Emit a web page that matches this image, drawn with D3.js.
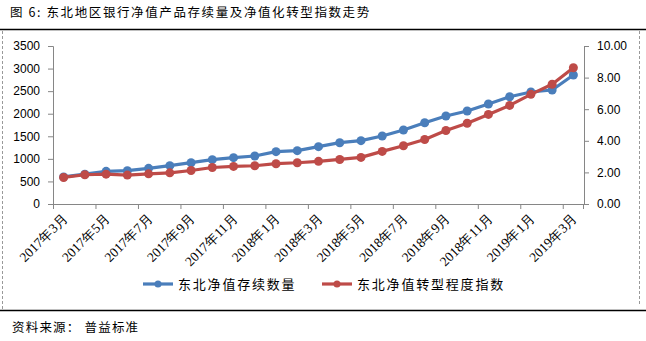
<!DOCTYPE html>
<html><head><meta charset="utf-8">
<script src="https://cdn.jsdelivr.net/npm/d3@7"></script>
<style>body{margin:0;background:#fff}svg{display:block}</style>
</head><body>
<script>
const months = ["2017年3月","2017年4月","2017年5月","2017年6月","2017年7月","2017年8月","2017年9月","2017年10月","2017年11月","2017年12月","2018年1月","2018年2月","2018年3月","2018年4月","2018年5月","2018年6月","2018年7月","2018年8月","2018年9月","2018年10月","2018年11月","2018年12月","2019年1月","2019年2月","2019年3月"];
const countValues = [600,660,724,738,790,849,915,982,1026,1063,1159,1181,1270,1358,1403,1506,1639,1801,1949,2060,2215,2377,2481,2525,2858];
const indexValues = [1.68,1.85,1.89,1.83,1.91,1.97,2.12,2.31,2.38,2.42,2.55,2.61,2.70,2.82,2.95,3.33,3.69,4.08,4.65,5.11,5.67,6.24,6.94,7.58,8.62];
const leftTicks = [0,500,1000,1500,2000,2500,3000,3500];
const rightTicks = [0,2,4,6,8,10];
const seriesNames = ["东北净值存续数量","东北净值转型程度指数"];
const title = "图 6:  东北地区银行净值产品存续量及净值化转型指数走势";
const source = "资料来源：  普益标准";

const W=646,H=341;
const svg=d3.select("body").append("svg").attr("width",W).attr("height",H);
const cjk="'Noto Sans CJK SC',sans-serif";
const blue="#4a7ebb", red="#be4b48";

// frame
svg.append("text").attr("x",10).attr("y",17).attr("font-family",cjk).attr("font-size",12.5).attr("letter-spacing",1.6).attr("fill","#000").text(title);
svg.append("line").attr("x1",0).attr("x2",646).attr("y1",29.5).attr("y2",29.5).attr("stroke","#000").attr("stroke-width",1.5);
svg.append("line").attr("x1",0).attr("x2",646).attr("y1",310.5).attr("y2",310.5).attr("stroke","#000").attr("stroke-width",1.5);
svg.append("line").attr("x1",2.5).attr("x2",2.5).attr("y1",31).attr("y2",309).attr("stroke","#999").attr("stroke-dasharray","3,2");
svg.append("line").attr("x1",639.5).attr("x2",639.5).attr("y1",31).attr("y2",306).attr("stroke","#999").attr("stroke-dasharray","3,2");
svg.append("text").attr("x",12).attr("y",332).attr("font-family",cjk).attr("font-size",12.5).attr("letter-spacing",1.2).attr("fill","#000").text(source);

const x0=53, x1=584, yTop=46, yBot=204;
const x=d3.scaleBand().domain(months).range([x0,x1]);
const yL=d3.scaleLinear().domain([0,3500]).range([yBot,yTop]);
const yR=d3.scaleLinear().domain([0,10]).range([yBot,yTop]);

const gL=svg.append("g").attr("transform",`translate(${x0},0)`)
  .call(d3.axisLeft(yL).tickValues(leftTicks).tickSize(5).tickPadding(8).tickFormat(d3.format("d")));
const gR=svg.append("g").attr("transform",`translate(${x1},0)`)
  .call(d3.axisRight(yR).tickValues(rightTicks).tickSize(5).tickPadding(8).tickFormat(d3.format(".2f")));
[gL,gR].forEach(g=>{
  g.select(".domain").attr("stroke","#868686");
  g.selectAll(".tick line").attr("stroke","#868686");
  g.selectAll("text").attr("font-family","'Liberation Sans',Arial,sans-serif").attr("font-size",12).attr("fill","#000");
});
const gB=svg.append("g").attr("transform",`translate(0,${yBot})`);
gB.append("line").attr("x1",x0).attr("x2",x1).attr("y1",0.5).attr("y2",0.5).attr("stroke","#868686");
const bw=x.bandwidth();
months.forEach((m,i)=>{
  if(i%2===0){
    gB.append("line").attr("x1",x(m)+0.5).attr("x2",x(m)+0.5).attr("y1",0).attr("y2",5).attr("stroke","#868686");
    const cx=x(m)+bw/2+5, cy=15;
    gB.append("text").attr("transform",`translate(${cx},${cy}) rotate(-45)`).attr("text-anchor","end")
      .attr("font-family","'Liberation Serif','Times New Roman',serif").attr("font-size",13.5).attr("fill","#000").text(m);
  }
});
gB.append("line").attr("x1",x1-0.5).attr("x2",x1-0.5).attr("y1",0).attr("y2",5).attr("stroke","#868686");

const cx=(d,i)=>x(months[i])+bw/2;
function drawSeries(vals,scale,color){
  const line=d3.line().x((d,i)=>cx(d,i)).y(d=>scale(d));
  svg.append("path").datum(vals).attr("d",line).attr("fill","none").attr("stroke",color).attr("stroke-width",3.2).attr("stroke-linejoin","round");
  svg.append("g").selectAll("circle").data(vals).join("circle").attr("cx",cx).attr("cy",d=>scale(d)).attr("r",4.5).attr("fill",color);
}
drawSeries(countValues,yL,blue);
drawSeries(indexValues,yR,red);

const leg=[{name:seriesNames[0],color:blue,x:143},{name:seriesNames[1],color:red,x:322}];
leg.forEach(l=>{
  svg.append("line").attr("x1",l.x).attr("x2",l.x+30).attr("y1",284).attr("y2",284).attr("stroke",l.color).attr("stroke-width",3.2);
  svg.append("circle").attr("cx",l.x+15).attr("cy",284).attr("r",3.5).attr("fill",l.color);
  svg.append("text").attr("x",l.x+35).attr("y",289).attr("font-family",cjk).attr("font-size",13).attr("letter-spacing",1.8).attr("fill","#000").text(l.name);
});
</script>
</body></html>
